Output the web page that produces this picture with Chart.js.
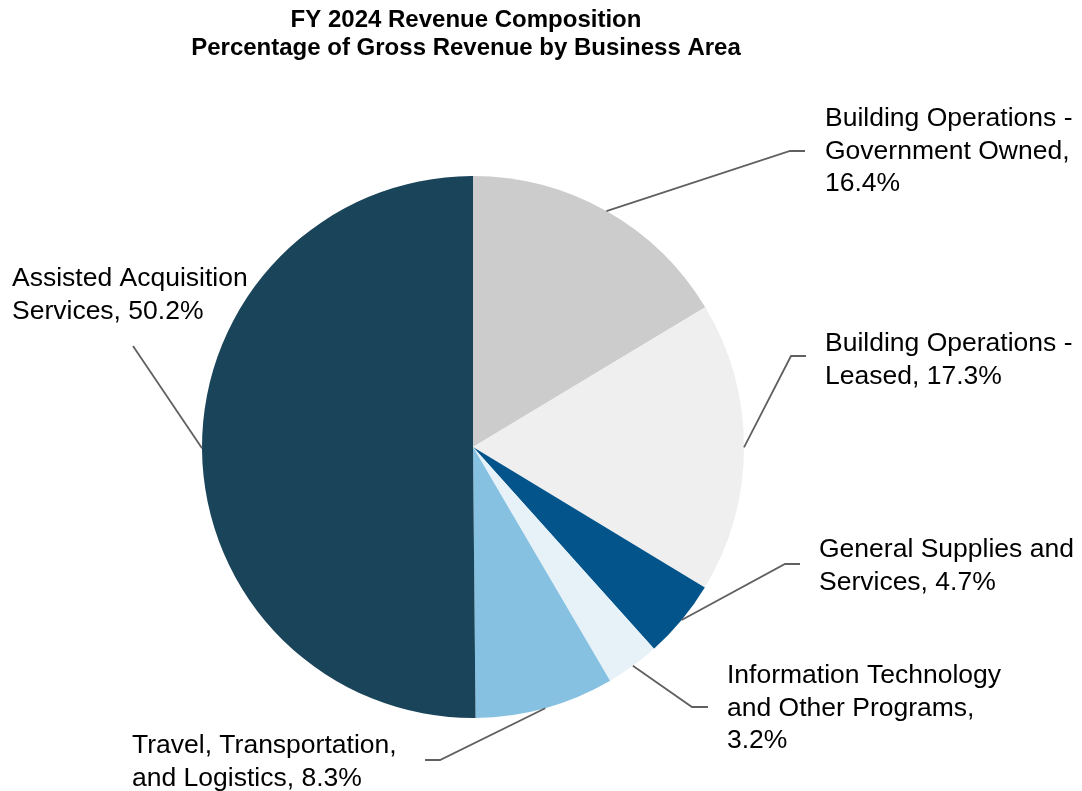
<!DOCTYPE html>
<html>
<head>
<meta charset="utf-8">
<script src="https://cdn.jsdelivr.net/npm/chart.js@4"></script>
<style>
  html, body { margin: 0; padding: 0; background: #ffffff; }
  #wrap { width: 1082px; height: 791px; position: relative; }
</style>
</head>
<body>
<div id="wrap"><canvas id="c"></canvas></div>
<script>
// ---- Data ----
const categories = [
  'Building Operations - Government Owned',
  'Building Operations - Leased',
  'General Supplies and Services',
  'Information Technology and Other Programs',
  'Travel, Transportation, and Logistics',
  'Assisted Acquisition Services'
];
const values = [16.4, 17.3, 4.7, 3.2, 8.3, 50.2];
const titleLines = ['FY 2024 Revenue Composition', 'Percentage of Gross Revenue by Business Area'];

// ---- Styles / layout (kept separate from data) ----
const colors = ['#cccccc', '#efefef', '#02548b', '#e6f2f8', '#86c1e1', '#1a4459'];
// words per label line, elbow point, horizontal end, text position
const labelLayout = [
  { words: [3, 2, 1], elbow: [790, 151], endX: 805, textX: 825, textY: 119 },
  { words: [3, 2],    elbow: [791, 356], endX: 806, textX: 825, textY: 344 },
  { words: [3, 2],    elbow: [785, 564], endX: 800, textX: 819, textY: 550 },
  { words: [2, 3, 1], elbow: [692, 707], endX: 708, textX: 727, textY: 676 },
  { words: [2, 3],    elbow: [440, 760], endX: 425, textX: 132, textY: 746 },
  { words: [2, 2],    elbow: [133, 346], endX: 133, textX: 12,  textY: 279 }
];
const FONT = '"Liberation Sans", Arial, Helvetica, sans-serif';

function labelLines(i) {
  const words = (categories[i] + ', ' + values[i].toFixed(1) + '%').split(' ');
  const out = [];
  let k = 0;
  for (const n of labelLayout[i].words) {
    out.push(words.slice(k, k + n).join(' '));
    k += n;
  }
  return out;
}

const annotatePlugin = {
  id: 'annotate',
  afterDraw(chart) {
    const ctx = chart.ctx;
    ctx.save();
    // title
    ctx.fillStyle = '#000000';
    ctx.font = 'bold 24px ' + FONT;
    ctx.textAlign = 'center';
    ctx.textBaseline = 'middle';
    titleLines.forEach((t, j) => ctx.fillText(t, 466, 20 + j * 28));

    // leader lines + labels
    const meta = chart.getDatasetMeta(0);
    meta.data.forEach((arc, i) => {
      const L = labelLayout[i];
      const p = arc.getProps(['x', 'y', 'startAngle', 'endAngle', 'outerRadius'], true);
      const mid = (p.startAngle + p.endAngle) / 2;
      const sx = p.x + Math.cos(mid) * p.outerRadius;
      const sy = p.y + Math.sin(mid) * p.outerRadius;
      ctx.strokeStyle = '#606060';
      ctx.lineWidth = 1.8;
      ctx.beginPath();
      ctx.moveTo(sx, sy);
      ctx.lineTo(L.elbow[0], L.elbow[1]);
      ctx.lineTo(L.endX, L.elbow[1]);
      ctx.stroke();

      ctx.fillStyle = '#000000';
      ctx.font = '26.5px ' + FONT;
      ctx.textAlign = 'left';
      ctx.textBaseline = 'middle';
      labelLines(i).forEach((line, j) => ctx.fillText(line, L.textX, L.textY + j * 32.5));
    });
    ctx.restore();
  }
};

new Chart(document.getElementById('c'), {
  type: 'pie',
  data: {
    labels: categories,
    datasets: [{
      data: values,
      backgroundColor: colors,
      borderWidth: 0
    }]
  },
  options: {
    responsive: true,
    maintainAspectRatio: false,
    animation: false,
    layout: { padding: { top: 176, bottom: 73, left: 202, right: 338 } },
    plugins: {
      legend: { display: false },
      title: { display: false },
      tooltip: { enabled: false }
    }
  },
  plugins: [annotatePlugin]
});
</script>
</body>
</html>
